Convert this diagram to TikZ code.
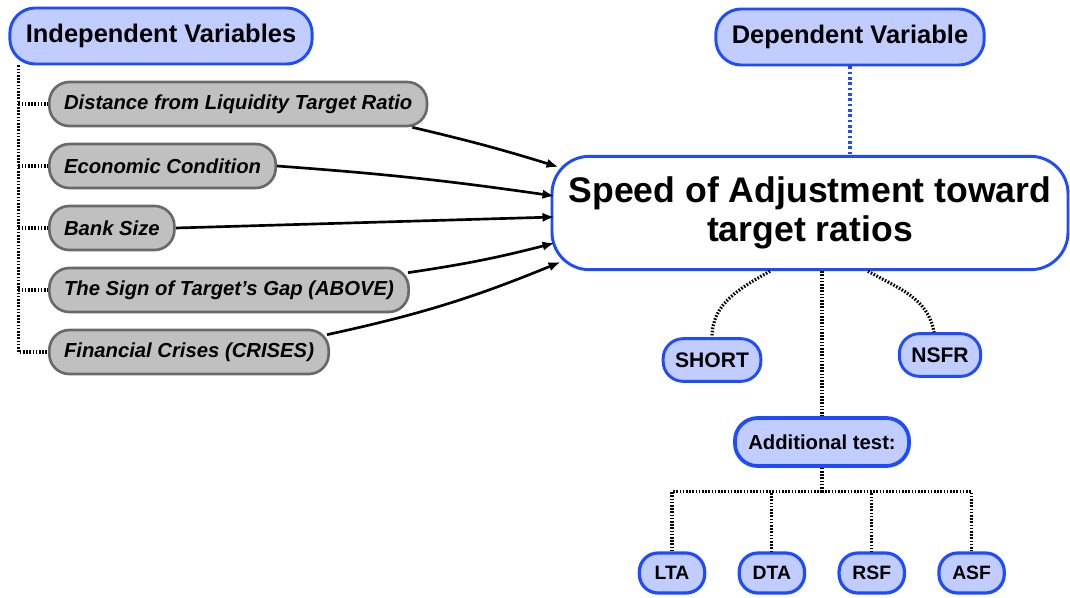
\documentclass[tikz,border=0pt]{standalone}
\usepackage{fontspec}
\setmainfont{Liberation Sans}
\usetikzlibrary{arrows.meta,positioning,calc}

\definecolor{pillblue}{RGB}{193,204,255}
\definecolor{lineblue}{RGB}{30,75,255}
\definecolor{pillgrey}{RGB}{192,192,192}
\definecolor{edgegrey}{RGB}{105,105,105}

\begin{document}
\begin{tikzpicture}[
    x=0.75pt, y=-0.75pt,
    node distance=11.5pt and 23.5pt,
    pill/.style={draw=lineblue, line width=2.2pt, fill=pillblue, align=center, inner xsep=12pt},
    headbox/.style={pill, rounded corners=19pt, minimum height=42pt,
                    font=\fontsize{19.1}{21}\selectfont\bfseries},
    mainbox/.style={pill, fill=white, rounded corners=28pt, minimum width=387pt,
                    minimum height=85pt, font=\fontsize{26.7}{29}\selectfont\bfseries},
    greybox/.style={draw=edgegrey, fill=pillgrey, line width=2pt, rounded corners=15pt,
                    minimum height=33pt, inner xsep=11pt,
                    font=\fontsize{15.2}{17}\selectfont\bfseries\itshape},
    testbox/.style={pill, line width=2.8pt, rounded corners=17pt, minimum height=36pt,
                    inner xsep=10pt, font=\fontsize{15.2}{17}\selectfont\bfseries},
    ratiobox/.style={pill, rounded corners=15pt, minimum height=32pt, inner xsep=9pt,
                     font=\fontsize{15.8}{17}\selectfont\bfseries},
    leafbox/.style={pill, line width=2.4pt, rounded corners=14pt, minimum height=30pt,
                    minimum width=49pt, inner xsep=6pt, font=\fontsize{14.5}{16}\selectfont\bfseries},
    link/.style={-{Latex[length=9pt,width=7pt]}, line width=2pt},
    dotline/.style={line width=2.4pt, dash pattern=on 1.2pt off 1.2pt},
    bluedot/.style={line width=2.4pt, dash pattern=on 2pt off 2pt, draw=lineblue}
  ]
    \useasboundingbox (0,0) rectangle (1070,597);

    % Headings
    \node[headbox] (indep) at (161,36) {Independent Variables};
    \node[headbox] (dep) at (850,37) {Dependent Variable};

    % Dependent variable
    \node[mainbox] (speed) at (810,213) {Speed of Adjustment toward\\target ratios};

    % Independent variables
    \node[greybox, anchor=west] (dist) at (48,104) {Distance from Liquidity Target Ratio};
    \node[greybox, below=of dist.south west, anchor=north west] (econ) {Economic Condition};
    \node[greybox, below=of econ.south west, anchor=north west] (bank) {Bank Size};
    \node[greybox, below=of bank.south west, anchor=north west] (sign) {The Sign of Target's Gap (ABOVE)};
    \node[greybox, below=of sign.south west, anchor=north west] (fin) {Financial Crises (CRISES)};

    % Measures
    \node[ratiobox] (short) at (712,360) {SHORT};
    \node[ratiobox] (nsfr) at (940,355) {NSFR};
    \node[testbox] (add) at (822,442) {Additional test:};

    \node[leafbox] (lta) at (672,573) {LTA};
    \node[leafbox, right=of lta] (dta) {DTA};
    \node[leafbox, right=of dta] (rsf) {RSF};
    \node[leafbox, right=of rsf] (asf) {ASF};

    % Left tree
    \coordinate (trunk) at ($(indep.south west)+(10,0)$);
    \draw[dotline] (trunk) |- (fin.west);
    \foreach \n in {dist,econ,bank,sign}
      \draw[dotline] (trunk |- \n.west) -- (\n.west);

    % Arrows
    \draw[link] ($(dist.south east)+(-16,0)$) to[bend left=2] ($(speed.west)+(8,-46)$);
    \draw[link] (econ.east) to[bend left=2] ($(speed.west)+(4,-17)$);
    \draw[link] (bank.east) -- ($(speed.west)+(4,4)$);
    \draw[link] ($(sign.north east)+(-2,6)$) to[bend right=3] ($(speed.west)+(4,30)$);
    \draw[link] ($(fin.north east)+(-3,6)$) to[bend right=5] ($(speed.west)+(10,49)$);

    % Dotted links
    \draw[bluedot] (dep.south) -- (dep.south |- speed.north);
    \draw[dotline] ($(speed.south)+(-40,0)$) to[out=-150,in=90] (short.north);
    \draw[dotline] ($(speed.south)+(58,0)$) to[out=-30,in=100] ($(nsfr.north)+(-6,0)$);
    \draw[dotline] (add.north |- speed.south) -- (add.north);
    \draw[dotline] (add.south) -- ++(0,24) coordinate (fork);
    \foreach \n in {lta,dta,rsf,asf}
      \draw[dotline] (fork) -| (\n.north);
  \end{tikzpicture}
\end{document}
